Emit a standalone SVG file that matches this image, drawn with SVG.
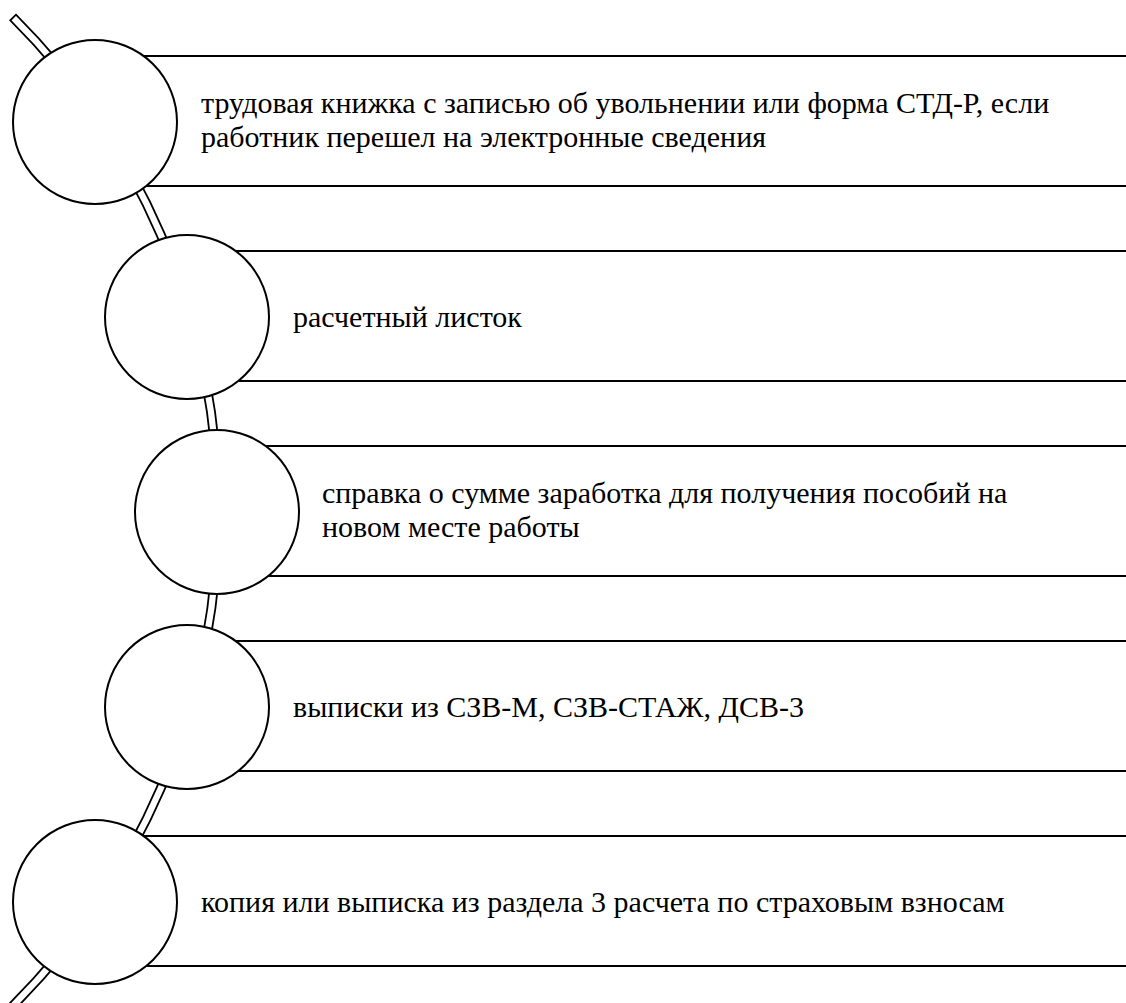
<svg xmlns="http://www.w3.org/2000/svg" width="1126" height="1003" viewBox="0 0 1126 1003">
<style>
.arc{fill:#fff;stroke:#000;stroke-width:1.8}
.node circle{fill:#fff;stroke:#000;stroke-width:2}
.node line{stroke:#000;stroke-width:2}
.node text{font-family:'Liberation Serif','Times New Roman',serif;font-size:30px;fill:#000}
</style>
<rect width="1126" height="1003" fill="#fff"/>
<g id="connectors">
<path class="arc" d="M 15.96 14.68 A 702 702 0 0 1 15.96 1008.32 L 10.30 1002.66 A 694 694 0 0 0 10.30 20.34 Z"/>
</g>
<g id="node1" class="node">
<line x1="95" y1="56" x2="1126" y2="56"/>
<line x1="95" y1="186" x2="1126" y2="186"/>
<circle cx="95" cy="122" r="82"/>
<text x="201" y="113">трудовая книжка с записью об увольнении или форма СТД-Р, если</text>
<text x="201" y="147">работник перешел на электронные сведения</text>
</g>
<g id="node2" class="node">
<line x1="187" y1="251" x2="1126" y2="251"/>
<line x1="187" y1="381" x2="1126" y2="381"/>
<circle cx="187" cy="317" r="82"/>
<text x="293" y="327">расчетный листок</text>
</g>
<g id="node3" class="node">
<line x1="217" y1="446" x2="1126" y2="446"/>
<line x1="217" y1="576" x2="1126" y2="576"/>
<circle cx="217" cy="512" r="82"/>
<text x="322" y="503">справка о сумме заработка для получения пособий на</text>
<text x="322" y="537">новом месте работы</text>
</g>
<g id="node4" class="node">
<line x1="187" y1="641" x2="1126" y2="641"/>
<line x1="187" y1="771" x2="1126" y2="771"/>
<circle cx="187" cy="707" r="82"/>
<text x="293" y="717">выписки из СЗВ-М, СЗВ-СТАЖ, ДСВ-3</text>
</g>
<g id="node5" class="node">
<line x1="95" y1="836" x2="1126" y2="836"/>
<line x1="95" y1="966" x2="1126" y2="966"/>
<circle cx="95" cy="902" r="82"/>
<text x="201" y="912">копия или выписка из раздела 3 расчета по страховым взносам</text>
</g>
</svg>
